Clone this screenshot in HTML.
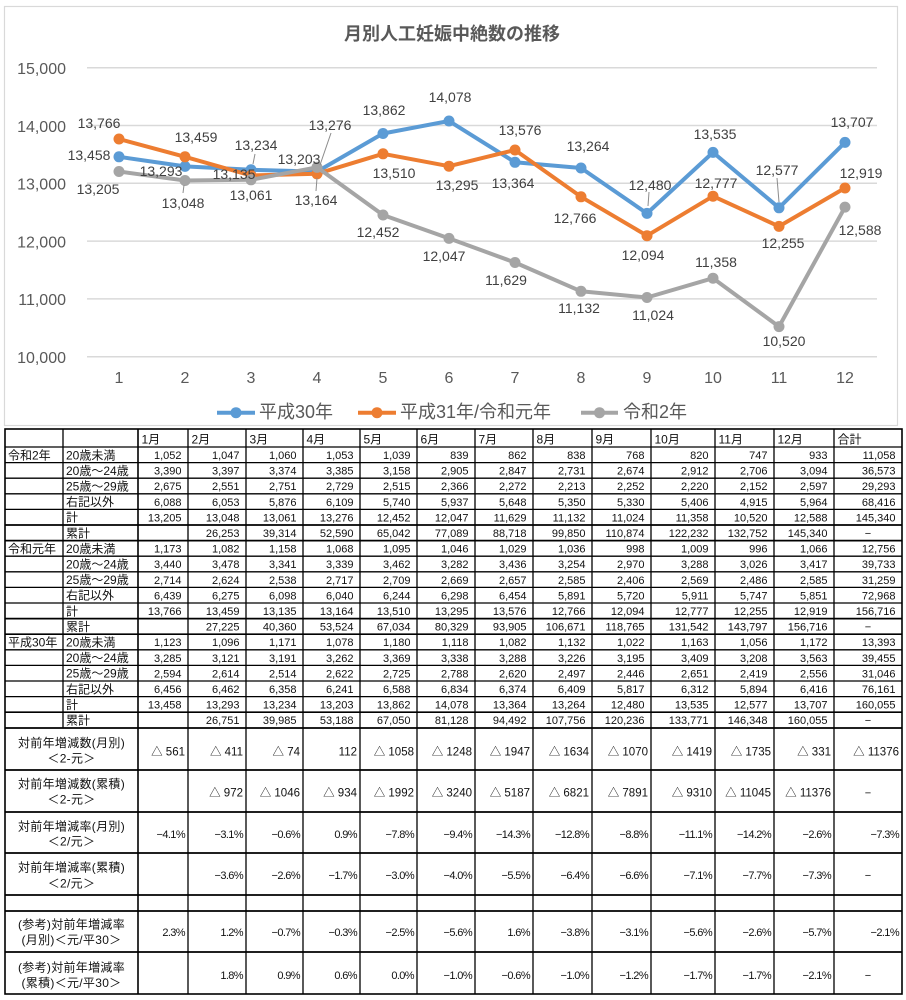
<!DOCTYPE html>
<html><head><meta charset="utf-8"><style>
html,body{margin:0;padding:0;background:#fff;}
svg{display:block;}
text{font-family:"Liberation Sans","Noto Sans CJK JP",sans-serif;}
.yl{font-size:16px;fill:#595959;text-anchor:end;}
.xl{font-size:16px;fill:#595959;text-anchor:middle;}
.dl{font-size:14px;fill:#404040;text-anchor:middle;}
.lg{font-size:18px;fill:#595959;}
.n{font-size:11px;fill:#111;text-anchor:end;}
.p{font-size:11px;fill:#111;text-anchor:end;letter-spacing:-0.6px;}
.t{font-size:11.5px;fill:#111;text-anchor:end;}
.c{font-size:11px;fill:#111;text-anchor:middle;}
.h{font-size:12px;fill:#111;}
.lb{font-size:12px;fill:#111;}
.ml{font-size:12px;fill:#111;text-anchor:middle;letter-spacing:0.3px;}
</style></head><body>
<svg width="906" height="1000" viewBox="0 0 906 1000" xmlns="http://www.w3.org/2000/svg">
<rect x="0" y="0" width="906" height="1000" fill="#fff"/>
<!-- Chart frame -->
<rect x="4.5" y="6.5" width="893" height="419" fill="#fff" stroke="#D9D9D9" stroke-width="1.2"/>
<text x="452" y="40" text-anchor="middle" style="font-size:18px;font-weight:bold;fill:#595959;">月別人工妊娠中絶数の推移</text>
<!-- grid -->
<g stroke="#D9D9D9" stroke-width="1.5">
<line x1="87" y1="67.7" x2="877" y2="67.7"/>
<line x1="87" y1="125.5" x2="877" y2="125.5"/>
<line x1="87" y1="183.3" x2="877" y2="183.3"/>
<line x1="87" y1="241.1" x2="877" y2="241.1"/>
<line x1="87" y1="298.9" x2="877" y2="298.9"/>
<line x1="87" y1="356.7" x2="877" y2="356.7"/>
</g>
<text class="yl" x="66" y="74">15,000</text>
<text class="yl" x="66" y="131.8">14,000</text>
<text class="yl" x="66" y="189.6">13,000</text>
<text class="yl" x="66" y="247.4">12,000</text>
<text class="yl" x="66" y="305.2">11,000</text>
<text class="yl" x="66" y="363">10,000</text>
<g class="xl">
<text class="xl" x="119" y="383">1</text><text class="xl" x="185" y="383">2</text><text class="xl" x="251" y="383">3</text><text class="xl" x="317" y="383">4</text><text class="xl" x="383" y="383">5</text><text class="xl" x="449" y="383">6</text><text class="xl" x="515" y="383">7</text><text class="xl" x="581" y="383">8</text><text class="xl" x="647" y="383">9</text><text class="xl" x="713" y="383">10</text><text class="xl" x="779" y="383">11</text><text class="xl" x="845" y="383">12</text>
</g>
<!-- series -->
<polyline fill="none" stroke="#5B9BD5" stroke-width="4" stroke-linejoin="round" points="119,156.8 185,166.4 251,169.8 317,171.6 383,133.5 449,121.0 515,162.3 581,168.0 647,213.4 713,152.4 779,207.8 845,142.4"/>
<g fill="#5B9BD5">
<circle cx="119" cy="156.8" r="5.5"/><circle cx="185" cy="166.4" r="5.5"/><circle cx="251" cy="169.8" r="5.5"/><circle cx="317" cy="171.6" r="5.5"/><circle cx="383" cy="133.5" r="5.5"/><circle cx="449" cy="121.0" r="5.5"/><circle cx="515" cy="162.3" r="5.5"/><circle cx="581" cy="168.0" r="5.5"/><circle cx="647" cy="213.4" r="5.5"/><circle cx="713" cy="152.4" r="5.5"/><circle cx="779" cy="207.8" r="5.5"/><circle cx="845" cy="142.4" r="5.5"/>
</g>
<polyline fill="none" stroke="#ED7D31" stroke-width="4" stroke-linejoin="round" points="119,139.0 185,156.8 251,175.5 317,173.8 383,153.8 449,166.2 515,150.0 581,196.8 647,235.7 713,196.2 779,226.4 845,188.0"/>
<g fill="#ED7D31">
<circle cx="119" cy="139.0" r="5.5"/><circle cx="185" cy="156.8" r="5.5"/><circle cx="251" cy="175.5" r="5.5"/><circle cx="317" cy="173.8" r="5.5"/><circle cx="383" cy="153.8" r="5.5"/><circle cx="449" cy="166.2" r="5.5"/><circle cx="515" cy="150.0" r="5.5"/><circle cx="581" cy="196.8" r="5.5"/><circle cx="647" cy="235.7" r="5.5"/><circle cx="713" cy="196.2" r="5.5"/><circle cx="779" cy="226.4" r="5.5"/><circle cx="845" cy="188.0" r="5.5"/>
</g>
<polyline fill="none" stroke="#A5A5A5" stroke-width="4" stroke-linejoin="round" points="119,171.5 185,180.5 251,179.8 317,167.3 383,215.0 449,238.4 515,262.5 581,291.3 647,297.5 713,278.2 779,326.6 845,207.1"/>
<g fill="#A5A5A5">
<circle cx="119" cy="171.5" r="5.5"/><circle cx="185" cy="180.5" r="5.5"/><circle cx="251" cy="179.8" r="5.5"/><circle cx="317" cy="167.3" r="5.5"/><circle cx="383" cy="215.0" r="5.5"/><circle cx="449" cy="238.4" r="5.5"/><circle cx="515" cy="262.5" r="5.5"/><circle cx="581" cy="291.3" r="5.5"/><circle cx="647" cy="297.5" r="5.5"/><circle cx="713" cy="278.2" r="5.5"/><circle cx="779" cy="326.6" r="5.5"/><circle cx="845" cy="207.1" r="5.5"/>
</g>
<!-- leader lines -->
<g stroke="#8C8C8C" stroke-width="1">
<line x1="255" y1="154" x2="253" y2="164"/>
<line x1="331" y1="133" x2="320" y2="165"/>
<line x1="317" y1="178" x2="316" y2="191"/>
<line x1="184" y1="185" x2="183" y2="193"/>
<line x1="649" y1="192" x2="648" y2="206"/>
<line x1="777" y1="178" x2="779" y2="202"/>
</g>
<!-- data labels -->
<g>
<text class="dl" x="89" y="160">13,458</text><text class="dl" x="161" y="176">13,293</text><text class="dl" x="256" y="150">13,234</text><text class="dl" x="299" y="164">13,203</text><text class="dl" x="384" y="115">13,862</text><text class="dl" x="450" y="102">14,078</text><text class="dl" x="513" y="188">13,364</text><text class="dl" x="588" y="151">13,264</text><text class="dl" x="650" y="190">12,480</text><text class="dl" x="715" y="139">13,535</text><text class="dl" x="777" y="175">12,577</text><text class="dl" x="852" y="127">13,707</text>
<text class="dl" x="99" y="128">13,766</text><text class="dl" x="196" y="142">13,459</text><text class="dl" x="234" y="179">13,135</text><text class="dl" x="316" y="205">13,164</text><text class="dl" x="394" y="178">13,510</text><text class="dl" x="457" y="190">13,295</text><text class="dl" x="520" y="135">13,576</text><text class="dl" x="575" y="223">12,766</text><text class="dl" x="643" y="260">12,094</text><text class="dl" x="716" y="188">12,777</text><text class="dl" x="783" y="248">12,255</text><text class="dl" x="861" y="178">12,919</text>
<text class="dl" x="98" y="194">13,205</text><text class="dl" x="183" y="208">13,048</text><text class="dl" x="251" y="200">13,061</text><text class="dl" x="330" y="130">13,276</text><text class="dl" x="378" y="237">12,452</text><text class="dl" x="444" y="261">12,047</text><text class="dl" x="506" y="285">11,629</text><text class="dl" x="579" y="313">11,132</text><text class="dl" x="653" y="320">11,024</text><text class="dl" x="716" y="267">11,358</text><text class="dl" x="784" y="346">10,520</text><text class="dl" x="860" y="235">12,588</text>
</g>
<!-- legend -->
<line x1="217" y1="412.7" x2="255" y2="412.7" stroke="#5B9BD5" stroke-width="4"/><circle cx="236" cy="412.7" r="5.5" fill="#5B9BD5"/>
<text class="lg" x="259" y="418">平成30年</text>
<line x1="358" y1="412.7" x2="396" y2="412.7" stroke="#ED7D31" stroke-width="4"/><circle cx="377" cy="412.7" r="5.5" fill="#ED7D31"/>
<text class="lg" x="400" y="418">平成31年/令和元年</text>
<line x1="581" y1="412.7" x2="618" y2="412.7" stroke="#A5A5A5" stroke-width="4"/><circle cx="599.5" cy="412.7" r="5.5" fill="#A5A5A5"/>
<text class="lg" x="623" y="418">令和2年</text>

<!-- TABLE LINES -->
<g stroke="#000" stroke-width="1.3" fill="none">
<rect x="5" y="429" width="897" height="565" stroke-width="1.6"/>
<line x1="5" y1="447" x2="902" y2="447"/>
<line x1="5" y1="462.6" x2="902" y2="462.6"/>
<line x1="5" y1="478.2" x2="902" y2="478.2"/>
<line x1="5" y1="493.8" x2="902" y2="493.8"/>
<line x1="5" y1="509.4" x2="902" y2="509.4"/>
<line x1="5" y1="525" x2="902" y2="525" stroke-width="1.7"/>
<line x1="5" y1="540.6" x2="902" y2="540.6" stroke-width="1.7"/>
<line x1="5" y1="556.2" x2="902" y2="556.2"/>
<line x1="5" y1="571.8" x2="902" y2="571.8"/>
<line x1="5" y1="587.4" x2="902" y2="587.4"/>
<line x1="5" y1="603" x2="902" y2="603"/>
<line x1="5" y1="618.6" x2="902" y2="618.6" stroke-width="1.7"/>
<line x1="5" y1="634.2" x2="902" y2="634.2" stroke-width="1.7"/>
<line x1="5" y1="649.8" x2="902" y2="649.8"/>
<line x1="5" y1="665.4" x2="902" y2="665.4"/>
<line x1="5" y1="681" x2="902" y2="681"/>
<line x1="5" y1="696.6" x2="902" y2="696.6"/>
<line x1="5" y1="712.2" x2="902" y2="712.2" stroke-width="1.7"/>
<line x1="5" y1="728" x2="902" y2="728" stroke-width="1.7"/>
<line x1="5" y1="770" x2="902" y2="770" stroke-width="1.7"/>
<line x1="5" y1="812" x2="902" y2="812" stroke-width="1.7"/>
<line x1="5" y1="853" x2="902" y2="853" stroke-width="1.7"/>
<line x1="5" y1="895" x2="902" y2="895" stroke-width="1.7"/>
<line x1="5" y1="911" x2="902" y2="911" stroke-width="1.7"/>
<line x1="5" y1="952" x2="902" y2="952" stroke-width="1.7"/>
<line x1="63" y1="429" x2="63" y2="728"/>
<line x1="138" y1="429" x2="138" y2="994" stroke-width="1.6"/>
<line x1="188" y1="429" x2="188" y2="994"/>
<line x1="246" y1="429" x2="246" y2="994"/>
<line x1="303" y1="429" x2="303" y2="994"/>
<line x1="360" y1="429" x2="360" y2="994"/>
<line x1="417" y1="429" x2="417" y2="994"/>
<line x1="475" y1="429" x2="475" y2="994"/>
<line x1="533" y1="429" x2="533" y2="994"/>
<line x1="592" y1="429" x2="592" y2="994"/>
<line x1="651" y1="429" x2="651" y2="994"/>
<line x1="715" y1="429" x2="715" y2="994"/>
<line x1="774" y1="429" x2="774" y2="994"/>
<line x1="834" y1="429" x2="834" y2="994"/>
</g>

<!-- header -->
<g class="h">
<text class="h" x="141.5" y="443.5">1月</text><text class="h" x="191.5" y="443.5">2月</text><text class="h" x="249.5" y="443.5">3月</text><text class="h" x="306.5" y="443.5">4月</text><text class="h" x="363.5" y="443.5">5月</text><text class="h" x="420.5" y="443.5">6月</text><text class="h" x="478.5" y="443.5">7月</text><text class="h" x="536.5" y="443.5">8月</text><text class="h" x="595.5" y="443.5">9月</text><text class="h" x="654.5" y="443.5">10月</text><text class="h" x="718.5" y="443.5">11月</text><text class="h" x="777.5" y="443.5">12月</text><text class="h" x="837.5" y="443.5">合計</text>
</g>

<!-- row labels -->
<text class="lb" x="8" y="459.3">令和2年</text>
<text class="lb" x="8" y="552.9">令和元年</text>
<text class="lb" x="8" y="646.5">平成30年</text>
<g>
<text class="lb" x="66" y="459.3">20歳未満</text>
<text class="lb" x="66" y="474.9">20歳～24歳</text>
<text class="lb" x="66" y="490.5">25歳～29歳</text>
<text class="lb" x="66" y="506.1">右記以外</text>
<text class="lb" x="66" y="521.7">計</text>
<text class="lb" x="66" y="537.3">累計</text>
<text class="lb" x="66" y="552.9">20歳未満</text>
<text class="lb" x="66" y="568.5">20歳～24歳</text>
<text class="lb" x="66" y="584.1">25歳～29歳</text>
<text class="lb" x="66" y="599.7">右記以外</text>
<text class="lb" x="66" y="615.3">計</text>
<text class="lb" x="66" y="630.9">累計</text>
<text class="lb" x="66" y="646.5">20歳未満</text>
<text class="lb" x="66" y="662.1">20歳～24歳</text>
<text class="lb" x="66" y="677.7">25歳～29歳</text>
<text class="lb" x="66" y="693.3">右記以外</text>
<text class="lb" x="66" y="708.9">計</text>
<text class="lb" x="66" y="724.5">累計</text>
</g>

<!-- R2 -->
<g class="n">
<text class="n" x="181.5" y="459">1,052</text><text class="n" x="239.5" y="459">1,047</text><text class="n" x="296.5" y="459">1,060</text><text class="n" x="353.5" y="459">1,053</text><text class="n" x="410.5" y="459">1,039</text><text class="n" x="468.5" y="459">839</text><text class="n" x="526.5" y="459">862</text><text class="n" x="585.5" y="459">838</text><text class="n" x="644.5" y="459">768</text><text class="n" x="708.5" y="459">820</text><text class="n" x="767.5" y="459">747</text><text class="n" x="827.5" y="459">933</text><text class="n" x="895.5" y="459">11,058</text>
<text class="n" x="181.5" y="474.6">3,390</text><text class="n" x="239.5" y="474.6">3,397</text><text class="n" x="296.5" y="474.6">3,374</text><text class="n" x="353.5" y="474.6">3,385</text><text class="n" x="410.5" y="474.6">3,158</text><text class="n" x="468.5" y="474.6">2,905</text><text class="n" x="526.5" y="474.6">2,847</text><text class="n" x="585.5" y="474.6">2,731</text><text class="n" x="644.5" y="474.6">2,674</text><text class="n" x="708.5" y="474.6">2,912</text><text class="n" x="767.5" y="474.6">2,706</text><text class="n" x="827.5" y="474.6">3,094</text><text class="n" x="895.5" y="474.6">36,573</text>
<text class="n" x="181.5" y="490.2">2,675</text><text class="n" x="239.5" y="490.2">2,551</text><text class="n" x="296.5" y="490.2">2,751</text><text class="n" x="353.5" y="490.2">2,729</text><text class="n" x="410.5" y="490.2">2,515</text><text class="n" x="468.5" y="490.2">2,366</text><text class="n" x="526.5" y="490.2">2,272</text><text class="n" x="585.5" y="490.2">2,213</text><text class="n" x="644.5" y="490.2">2,252</text><text class="n" x="708.5" y="490.2">2,220</text><text class="n" x="767.5" y="490.2">2,152</text><text class="n" x="827.5" y="490.2">2,597</text><text class="n" x="895.5" y="490.2">29,293</text>
<text class="n" x="181.5" y="505.8">6,088</text><text class="n" x="239.5" y="505.8">6,053</text><text class="n" x="296.5" y="505.8">5,876</text><text class="n" x="353.5" y="505.8">6,109</text><text class="n" x="410.5" y="505.8">5,740</text><text class="n" x="468.5" y="505.8">5,937</text><text class="n" x="526.5" y="505.8">5,648</text><text class="n" x="585.5" y="505.8">5,350</text><text class="n" x="644.5" y="505.8">5,330</text><text class="n" x="708.5" y="505.8">5,406</text><text class="n" x="767.5" y="505.8">4,915</text><text class="n" x="827.5" y="505.8">5,964</text><text class="n" x="895.5" y="505.8">68,416</text>
<text class="n" x="181.5" y="521.4">13,205</text><text class="n" x="239.5" y="521.4">13,048</text><text class="n" x="296.5" y="521.4">13,061</text><text class="n" x="353.5" y="521.4">13,276</text><text class="n" x="410.5" y="521.4">12,452</text><text class="n" x="468.5" y="521.4">12,047</text><text class="n" x="526.5" y="521.4">11,629</text><text class="n" x="585.5" y="521.4">11,132</text><text class="n" x="644.5" y="521.4">11,024</text><text class="n" x="708.5" y="521.4">11,358</text><text class="n" x="767.5" y="521.4">10,520</text><text class="n" x="827.5" y="521.4">12,588</text><text class="n" x="895.5" y="521.4">145,340</text>
<text class="n" x="239.5" y="537">26,253</text><text class="n" x="296.5" y="537">39,314</text><text class="n" x="353.5" y="537">52,590</text><text class="n" x="410.5" y="537">65,042</text><text class="n" x="468.5" y="537">77,089</text><text class="n" x="526.5" y="537">88,718</text><text class="n" x="585.5" y="537">99,850</text><text class="n" x="644.5" y="537">110,874</text><text class="n" x="708.5" y="537">122,232</text><text class="n" x="767.5" y="537">132,752</text><text class="n" x="827.5" y="537">145,340</text>
</g>
<text class="c" x="868" y="537">−</text>
<!-- R1 -->
<g>
<text class="n" x="181.5" y="552.6">1,173</text><text class="n" x="239.5" y="552.6">1,082</text><text class="n" x="296.5" y="552.6">1,158</text><text class="n" x="353.5" y="552.6">1,068</text><text class="n" x="410.5" y="552.6">1,095</text><text class="n" x="468.5" y="552.6">1,046</text><text class="n" x="526.5" y="552.6">1,029</text><text class="n" x="585.5" y="552.6">1,036</text><text class="n" x="644.5" y="552.6">998</text><text class="n" x="708.5" y="552.6">1,009</text><text class="n" x="767.5" y="552.6">996</text><text class="n" x="827.5" y="552.6">1,066</text><text class="n" x="895.5" y="552.6">12,756</text>
<text class="n" x="181.5" y="568.2">3,440</text><text class="n" x="239.5" y="568.2">3,478</text><text class="n" x="296.5" y="568.2">3,341</text><text class="n" x="353.5" y="568.2">3,339</text><text class="n" x="410.5" y="568.2">3,462</text><text class="n" x="468.5" y="568.2">3,282</text><text class="n" x="526.5" y="568.2">3,436</text><text class="n" x="585.5" y="568.2">3,254</text><text class="n" x="644.5" y="568.2">2,970</text><text class="n" x="708.5" y="568.2">3,288</text><text class="n" x="767.5" y="568.2">3,026</text><text class="n" x="827.5" y="568.2">3,417</text><text class="n" x="895.5" y="568.2">39,733</text>
<text class="n" x="181.5" y="583.8">2,714</text><text class="n" x="239.5" y="583.8">2,624</text><text class="n" x="296.5" y="583.8">2,538</text><text class="n" x="353.5" y="583.8">2,717</text><text class="n" x="410.5" y="583.8">2,709</text><text class="n" x="468.5" y="583.8">2,669</text><text class="n" x="526.5" y="583.8">2,657</text><text class="n" x="585.5" y="583.8">2,585</text><text class="n" x="644.5" y="583.8">2,406</text><text class="n" x="708.5" y="583.8">2,569</text><text class="n" x="767.5" y="583.8">2,486</text><text class="n" x="827.5" y="583.8">2,585</text><text class="n" x="895.5" y="583.8">31,259</text>
<text class="n" x="181.5" y="599.4">6,439</text><text class="n" x="239.5" y="599.4">6,275</text><text class="n" x="296.5" y="599.4">6,098</text><text class="n" x="353.5" y="599.4">6,040</text><text class="n" x="410.5" y="599.4">6,244</text><text class="n" x="468.5" y="599.4">6,298</text><text class="n" x="526.5" y="599.4">6,454</text><text class="n" x="585.5" y="599.4">5,891</text><text class="n" x="644.5" y="599.4">5,720</text><text class="n" x="708.5" y="599.4">5,911</text><text class="n" x="767.5" y="599.4">5,747</text><text class="n" x="827.5" y="599.4">5,851</text><text class="n" x="895.5" y="599.4">72,968</text>
<text class="n" x="181.5" y="615">13,766</text><text class="n" x="239.5" y="615">13,459</text><text class="n" x="296.5" y="615">13,135</text><text class="n" x="353.5" y="615">13,164</text><text class="n" x="410.5" y="615">13,510</text><text class="n" x="468.5" y="615">13,295</text><text class="n" x="526.5" y="615">13,576</text><text class="n" x="585.5" y="615">12,766</text><text class="n" x="644.5" y="615">12,094</text><text class="n" x="708.5" y="615">12,777</text><text class="n" x="767.5" y="615">12,255</text><text class="n" x="827.5" y="615">12,919</text><text class="n" x="895.5" y="615">156,716</text>
<text class="n" x="239.5" y="630.6">27,225</text><text class="n" x="296.5" y="630.6">40,360</text><text class="n" x="353.5" y="630.6">53,524</text><text class="n" x="410.5" y="630.6">67,034</text><text class="n" x="468.5" y="630.6">80,329</text><text class="n" x="526.5" y="630.6">93,905</text><text class="n" x="585.5" y="630.6">106,671</text><text class="n" x="644.5" y="630.6">118,765</text><text class="n" x="708.5" y="630.6">131,542</text><text class="n" x="767.5" y="630.6">143,797</text><text class="n" x="827.5" y="630.6">156,716</text>
</g>
<text class="c" x="868" y="630.6">−</text>
<!-- H30 -->
<g>
<text class="n" x="181.5" y="646.2">1,123</text><text class="n" x="239.5" y="646.2">1,096</text><text class="n" x="296.5" y="646.2">1,171</text><text class="n" x="353.5" y="646.2">1,078</text><text class="n" x="410.5" y="646.2">1,180</text><text class="n" x="468.5" y="646.2">1,118</text><text class="n" x="526.5" y="646.2">1,082</text><text class="n" x="585.5" y="646.2">1,132</text><text class="n" x="644.5" y="646.2">1,022</text><text class="n" x="708.5" y="646.2">1,163</text><text class="n" x="767.5" y="646.2">1,056</text><text class="n" x="827.5" y="646.2">1,172</text><text class="n" x="895.5" y="646.2">13,393</text>
<text class="n" x="181.5" y="661.8">3,285</text><text class="n" x="239.5" y="661.8">3,121</text><text class="n" x="296.5" y="661.8">3,191</text><text class="n" x="353.5" y="661.8">3,262</text><text class="n" x="410.5" y="661.8">3,369</text><text class="n" x="468.5" y="661.8">3,338</text><text class="n" x="526.5" y="661.8">3,288</text><text class="n" x="585.5" y="661.8">3,226</text><text class="n" x="644.5" y="661.8">3,195</text><text class="n" x="708.5" y="661.8">3,409</text><text class="n" x="767.5" y="661.8">3,208</text><text class="n" x="827.5" y="661.8">3,563</text><text class="n" x="895.5" y="661.8">39,455</text>
<text class="n" x="181.5" y="677.4">2,594</text><text class="n" x="239.5" y="677.4">2,614</text><text class="n" x="296.5" y="677.4">2,514</text><text class="n" x="353.5" y="677.4">2,622</text><text class="n" x="410.5" y="677.4">2,725</text><text class="n" x="468.5" y="677.4">2,788</text><text class="n" x="526.5" y="677.4">2,620</text><text class="n" x="585.5" y="677.4">2,497</text><text class="n" x="644.5" y="677.4">2,446</text><text class="n" x="708.5" y="677.4">2,651</text><text class="n" x="767.5" y="677.4">2,419</text><text class="n" x="827.5" y="677.4">2,556</text><text class="n" x="895.5" y="677.4">31,046</text>
<text class="n" x="181.5" y="693">6,456</text><text class="n" x="239.5" y="693">6,462</text><text class="n" x="296.5" y="693">6,358</text><text class="n" x="353.5" y="693">6,241</text><text class="n" x="410.5" y="693">6,588</text><text class="n" x="468.5" y="693">6,834</text><text class="n" x="526.5" y="693">6,374</text><text class="n" x="585.5" y="693">6,409</text><text class="n" x="644.5" y="693">5,817</text><text class="n" x="708.5" y="693">6,312</text><text class="n" x="767.5" y="693">5,894</text><text class="n" x="827.5" y="693">6,416</text><text class="n" x="895.5" y="693">76,161</text>
<text class="n" x="181.5" y="708.6">13,458</text><text class="n" x="239.5" y="708.6">13,293</text><text class="n" x="296.5" y="708.6">13,234</text><text class="n" x="353.5" y="708.6">13,203</text><text class="n" x="410.5" y="708.6">13,862</text><text class="n" x="468.5" y="708.6">14,078</text><text class="n" x="526.5" y="708.6">13,364</text><text class="n" x="585.5" y="708.6">13,264</text><text class="n" x="644.5" y="708.6">12,480</text><text class="n" x="708.5" y="708.6">13,535</text><text class="n" x="767.5" y="708.6">12,577</text><text class="n" x="827.5" y="708.6">13,707</text><text class="n" x="895.5" y="708.6">160,055</text>
<text class="n" x="239.5" y="724.2">26,751</text><text class="n" x="296.5" y="724.2">39,985</text><text class="n" x="353.5" y="724.2">53,188</text><text class="n" x="410.5" y="724.2">67,050</text><text class="n" x="468.5" y="724.2">81,128</text><text class="n" x="526.5" y="724.2">94,492</text><text class="n" x="585.5" y="724.2">107,756</text><text class="n" x="644.5" y="724.2">120,236</text><text class="n" x="708.5" y="724.2">133,771</text><text class="n" x="767.5" y="724.2">146,348</text><text class="n" x="827.5" y="724.2">160,055</text>
</g>
<text class="c" x="868" y="724.2">−</text>

<!-- lower labels -->
<text class="ml" x="71.5" y="747">対前年増減数(月別)</text><text class="ml" x="71.5" y="762.5">＜2-元＞</text>
<text class="ml" x="71.5" y="788">対前年増減数(累積)</text><text class="ml" x="71.5" y="803.5">＜2-元＞</text>
<text class="ml" x="71.5" y="830.5">対前年増減率(月別)</text><text class="ml" x="71.5" y="845.5">＜2/元＞</text>
<text class="ml" x="71.5" y="871.5">対前年増減率(累積)</text><text class="ml" x="71.5" y="887.5">＜2/元＞</text>
<text class="ml" x="71.5" y="928.5">(参考)対前年増減率</text><text class="ml" x="71.5" y="944">(月別)＜元/平30＞</text>
<text class="ml" x="71.5" y="971.5">(参考)対前年増減率</text><text class="ml" x="71.5" y="987">(累積)＜元/平30＞</text>

<!-- row A -->
<g>
<text class="t" x="185" y="755.5">△ 561</text><text class="t" x="243" y="755.5">△ 411</text><text class="t" x="300" y="755.5">△ 74</text><text class="t" x="357" y="755.5">112</text><text class="t" x="414" y="755.5">△ 1058</text><text class="t" x="472" y="755.5">△ 1248</text><text class="t" x="530" y="755.5">△ 1947</text><text class="t" x="589" y="755.5">△ 1634</text><text class="t" x="648" y="755.5">△ 1070</text><text class="t" x="712" y="755.5">△ 1419</text><text class="t" x="771" y="755.5">△ 1735</text><text class="t" x="831" y="755.5">△ 331</text><text class="t" x="899" y="755.5">△ 11376</text>
</g>
<!-- row B -->
<g>
<text class="t" x="243" y="796.5">△ 972</text><text class="t" x="300" y="796.5">△ 1046</text><text class="t" x="357" y="796.5">△ 934</text><text class="t" x="414" y="796.5">△ 1992</text><text class="t" x="472" y="796.5">△ 3240</text><text class="t" x="530" y="796.5">△ 5187</text><text class="t" x="589" y="796.5">△ 6821</text><text class="t" x="648" y="796.5">△ 7891</text><text class="t" x="712" y="796.5">△ 9310</text><text class="t" x="771" y="796.5">△ 11045</text><text class="t" x="831" y="796.5">△ 11376</text>
</g>
<text class="c" x="868" y="796.5">−</text>
<!-- row C -->
<g>
<text class="p" x="185" y="838">−4.1%</text><text class="p" x="243" y="838">−3.1%</text><text class="p" x="300" y="838">−0.6%</text><text class="p" x="357" y="838">0.9%</text><text class="p" x="414" y="838">−7.8%</text><text class="p" x="472" y="838">−9.4%</text><text class="p" x="530" y="838">−14.3%</text><text class="p" x="589" y="838">−12.8%</text><text class="p" x="648" y="838">−8.8%</text><text class="p" x="712" y="838">−11.1%</text><text class="p" x="771" y="838">−14.2%</text><text class="p" x="831" y="838">−2.6%</text><text class="p" x="899" y="838">−7.3%</text>
</g>
<!-- row D -->
<g>
<text class="p" x="243" y="879">−3.6%</text><text class="p" x="300" y="879">−2.6%</text><text class="p" x="357" y="879">−1.7%</text><text class="p" x="414" y="879">−3.0%</text><text class="p" x="472" y="879">−4.0%</text><text class="p" x="530" y="879">−5.5%</text><text class="p" x="589" y="879">−6.4%</text><text class="p" x="648" y="879">−6.6%</text><text class="p" x="712" y="879">−7.1%</text><text class="p" x="771" y="879">−7.7%</text><text class="p" x="831" y="879">−7.3%</text>
</g>
<text class="c" x="868" y="879">−</text>
<!-- row F -->
<g>
<text class="p" x="185" y="936">2.3%</text><text class="p" x="243" y="936">1.2%</text><text class="p" x="300" y="936">−0.7%</text><text class="p" x="357" y="936">−0.3%</text><text class="p" x="414" y="936">−2.5%</text><text class="p" x="472" y="936">−5.6%</text><text class="p" x="530" y="936">1.6%</text><text class="p" x="589" y="936">−3.8%</text><text class="p" x="648" y="936">−3.1%</text><text class="p" x="712" y="936">−5.6%</text><text class="p" x="771" y="936">−2.6%</text><text class="p" x="831" y="936">−5.7%</text><text class="p" x="899" y="936">−2.1%</text>
</g>
<!-- row G -->
<g>
<text class="p" x="243" y="979">1.8%</text><text class="p" x="300" y="979">0.9%</text><text class="p" x="357" y="979">0.6%</text><text class="p" x="414" y="979">0.0%</text><text class="p" x="472" y="979">−1.0%</text><text class="p" x="530" y="979">−0.6%</text><text class="p" x="589" y="979">−1.0%</text><text class="p" x="648" y="979">−1.2%</text><text class="p" x="712" y="979">−1.7%</text><text class="p" x="771" y="979">−1.7%</text><text class="p" x="831" y="979">−2.1%</text>
</g>
<text class="c" x="868" y="979">−</text>
</svg>
</body></html>
